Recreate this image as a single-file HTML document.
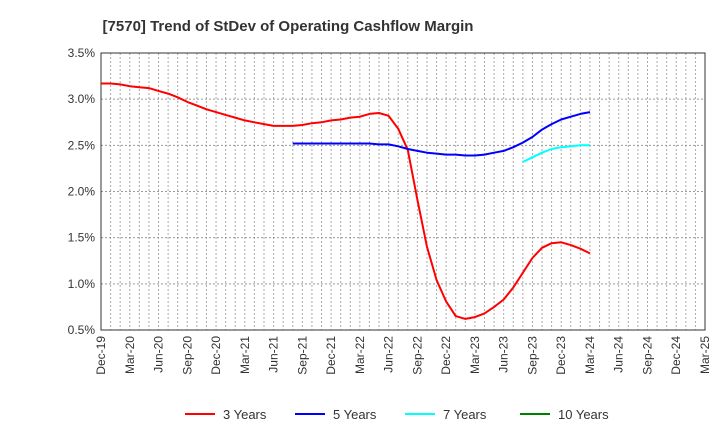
<!DOCTYPE html>
<html><head><meta charset="utf-8"><style>
body{margin:0;background:#fff;font-family:"Liberation Sans",sans-serif}
</style></head><body>
<svg id="chart" width="720" height="440" xmlns="http://www.w3.org/2000/svg" font-family="Liberation Sans, sans-serif">
<text x="288" y="31" text-anchor="middle" font-size="15" font-weight="bold" fill="#333">[7570]  Trend of StDev of Operating Cashflow Margin</text>
<g id="grid"></g><g id="axes"></g><g id="series"></g><g id="legend"></g>
</svg>
<script>
const xLabels=["Dec-19","Mar-20","Jun-20","Sep-20","Dec-20","Mar-21","Jun-21","Sep-21","Dec-21","Mar-22","Jun-22","Sep-22","Dec-22","Mar-23","Jun-23","Sep-23","Dec-23","Mar-24","Jun-24","Sep-24","Dec-24","Mar-25"];
const yTicks=[0.5,1.0,1.5,2.0,2.5,3.0,3.5];
// monthly values, month index 0 = Dec-19
const red=[3.17,3.17,3.16,3.14,3.13,3.12,3.09,3.06,3.02,2.97,2.93,2.89,2.86,2.83,2.80,2.77,2.75,2.73,2.71,2.71,2.71,2.72,2.74,2.75,2.77,2.78,2.80,2.81,2.84,2.85,2.82,2.68,2.45,1.91,1.40,1.04,0.81,0.65,0.62,0.64,0.68,0.75,0.83,0.96,1.12,1.28,1.39,1.44,1.45,1.42,1.38,1.33];
const blueStart=20;
const blue=[2.52,2.52,2.52,2.52,2.52,2.52,2.52,2.52,2.52,2.51,2.51,2.49,2.46,2.44,2.42,2.41,2.40,2.40,2.39,2.39,2.40,2.42,2.44,2.48,2.53,2.59,2.67,2.73,2.78,2.81,2.84,2.86];
const cyanStart=44;
const cyan=[2.32,2.37,2.42,2.46,2.48,2.49,2.50,2.50];
const legendNames=["3 Years","5 Years","7 Years","10 Years"];
const legendColors=["#ff0000","#0000ff","#00ffff","#008000"];

const NS="http://www.w3.org/2000/svg";
const L=101,R=705,T=53,B=330,months=63;
const X=m=>L+(R-L)*m/months;
const Y=v=>B-(v-0.5)/3.0*(B-T);
function mk(tag,attrs,parent){const e=document.createElementNS(NS,tag);for(const k in attrs)e.setAttribute(k,attrs[k]);parent.appendChild(e);return e;}
const grid=document.getElementById('grid'),axes=document.getElementById('axes'),ser=document.getElementById('series'),leg=document.getElementById('legend');
for(let m=1;m<months;m++){const l=mk('line',{x1:X(m),x2:X(m),y1:T,y2:B,stroke:'#aaa','stroke-dasharray':'2,2','stroke-width':1},grid);
}
yTicks.forEach(v=>{if(v>0.5&&v<3.5){const l=mk('line',{x1:L,x2:R,y1:Y(v),y2:Y(v),stroke:'#999','stroke-dasharray':'2,2','stroke-width':1},grid);
}
const t=mk('text',{x:L-6,y:Y(v)+4,'text-anchor':'end','font-size':12,fill:'#333'},axes);t.textContent=v.toFixed(1)+'%';
});
const fr=mk('rect',{x:L,y:T,width:R-L,height:B-T,fill:'none',stroke:'#333','stroke-width':1},axes);

xLabels.forEach((s,i)=>{const x=X(i*3);const t=mk('text',{x:x+4,y:B+6,'text-anchor':'end','font-size':12,fill:'#333',transform:`rotate(-90 ${x+4} ${B+6})`},axes);t.textContent=s;
});
function line(vals,start,color,name){const d=vals.map((v,i)=>(i?'L':'M')+X(start+i).toFixed(1)+','+Y(v).toFixed(1)).join(' ');
const p=mk('path',{d:d,fill:'none',stroke:color,'stroke-width':2,'stroke-linejoin':'round'},ser);
}
line(red,0,'#ff0000','series-3-years');
line(blue,blueStart,'#0000ff','series-5-years');
line(cyan,cyanStart,'#00ffff','series-7-years');
const lx=[185,295,405,520];
legendNames.forEach((n,i)=>{const g=mk('g',{},leg);
mk('line',{x1:lx[i],x2:lx[i]+30,y1:414,y2:414,stroke:legendColors[i],'stroke-width':2},g);
const t=mk('text',{x:lx[i]+38,y:419,'font-size':13,fill:'#333'},g);t.textContent=n;});
</script>
</body></html>
